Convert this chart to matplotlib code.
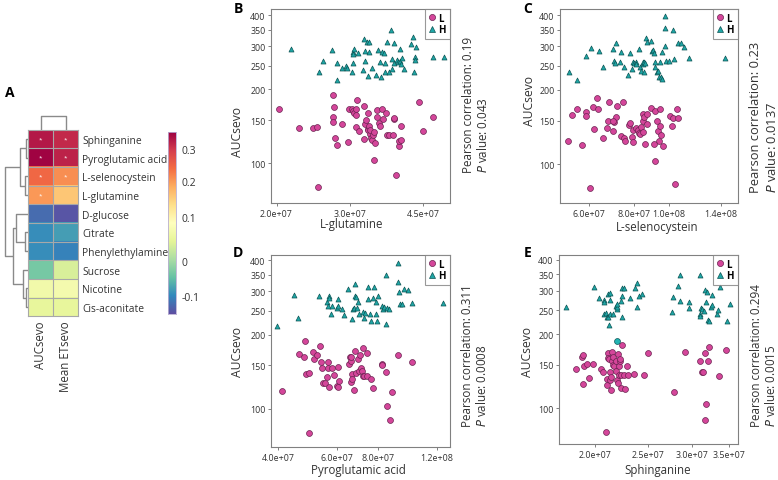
# Panel A: clustered correlation heatmap; panels B-E: log-log scatter of AUCsevo vs metabolite
import numpy as np
import matplotlib
matplotlib.use("Agg")
import matplotlib.pyplot as plt
from matplotlib.lines import Line2D
from matplotlib.ticker import NullLocator

plt.rcParams["font.family"] = ["Open Sans", "DejaVu Sans"]

W, H = 778, 481

# ── panel A data ──────────────────────────────────────────────────────────────
metabolites = ["Sphinganine", "Pyroglutamic acid", "L-selenocystein", "L-glutamine",
               "D-glucose", "Citrate", "Phenylethylamine", "Sucrose", "Nicotine",
               "Cis-aconitate"]
heat_cols = ["AUCsevo", "Mean ETsevo"]
r_auc = [0.33, 0.35, 0.245, 0.20, -0.125, -0.095, -0.095, -0.035, 0.065, 0.05]
r_et = [0.315, 0.32, 0.21, 0.16, -0.145, -0.08, -0.105, 0.035, 0.07, 0.05]
sig_auc = [1, 1, 1, 1, 0, 0, 0, 0, 0, 0]
sig_et = [1, 1, 1, 0, 0, 0, 0, 0, 0, 0]
# (child a, child b, height) — leaves are row indices, new nodes numbered from 10
row_merges = [(0, 1, 2.3), (2, 3, 3.3), (10, 11, 8.3), (5, 6, 3.3), (4, 13, 12.3),
              (8, 9, 2.0), (7, 15, 5.6), (14, 16, 15.8), (12, 17, 23.3)]
col_merges = [(0, 1, 13.5)]
# legend breaks are not evenly spaced
cbar_vals = [-0.152, -0.1, 0.0, 0.1, 0.2, 0.3, 0.353]
cbar_pos = [0.0, 0.1005, 0.293, 0.531, 0.732, 0.907, 1.0]
cbar_ticks = [-0.1, 0, 0.1, 0.2, 0.3]
cbar_ticklabels = ["-0.1", "0", "0.1", "0.2", "0.3"]

# ── panel B: L-glutamine (x in 1e7) ───────────────────────────────────────────
B_L_x = [2.03, 2.26, 2.45, 2.50, 2.52, 2.73, 2.75, 2.73, 2.74, 2.77, 2.80, 2.87, 2.97, 2.99, 3.04,
         3.06, 3.07, 3.10, 3.11, 3.11, 3.12, 3.15, 3.24, 3.25, 3.27, 3.28, 3.31, 3.31, 3.32, 3.34,
         3.35, 3.36, 3.38, 3.40, 3.41, 3.42, 3.44, 3.42, 3.48, 3.49, 3.53, 3.54, 3.58, 3.61, 3.67,
         3.68, 3.72, 3.81, 3.83, 3.84, 3.87, 3.93, 3.94, 3.99, 3.99, 4.40, 4.50, 4.75]
B_L_y = [167, 139, 139, 141, 80, 189, 170, 155, 148, 127, 119, 144, 122, 166, 167,
         163, 160, 167, 158, 140, 181, 136, 126, 171, 145, 150, 160, 138, 137, 142,
         132, 137, 127, 124, 130, 134, 121, 103, 155, 165, 146, 142, 167, 151, 160,
         130, 131, 131, 152, 153, 90, 118, 123, 142, 124, 178, 136, 155]
B_H_x = [2.17, 2.53, 2.59, 2.72, 2.80, 2.80, 2.87, 2.93, 2.96, 3.03, 3.05, 3.07, 3.05, 3.14, 3.22,
         3.25, 3.27, 3.29, 3.33, 3.26, 3.34, 3.40, 3.31, 3.47, 3.51, 3.54, 3.57, 3.59, 3.62, 3.65,
         3.68, 3.72, 3.76, 3.79, 3.82, 3.84, 3.89, 3.92, 3.95, 3.96, 3.98, 4.01, 4.04, 4.20, 4.26,
         4.27, 4.30, 4.29, 4.33, 4.74, 5.05, 3.79, 3.65, 3.06]
B_H_y = [293, 235, 262, 290, 257, 219, 245, 248, 244, 236, 285, 291, 278, 282, 241,
         321, 262, 313, 311, 286, 284, 244, 227, 229, 290, 258, 224, 285, 281, 236,
         311, 236, 349, 267, 308, 257, 263, 258, 260, 291, 254, 268, 243, 305, 328,
         235, 271, 264, 299, 272, 270, 242, 256, 257]

# ── panel C: L-selenocystein ──────────────────────────────────────────────────
C_L_x = [5.23, 5.39, 5.54, 5.72, 5.87, 5.88, 6.03, 6.14, 6.20, 6.34, 6.30, 6.57, 6.71, 6.78, 6.81,
         7.00, 7.04, 7.11, 7.17, 7.35, 7.46, 7.51, 7.54, 7.76, 7.79, 7.88, 7.96, 7.93, 8.13, 8.22,
         8.25, 8.31, 8.39, 8.45, 8.49, 8.52, 8.58, 8.67, 8.72, 8.95, 9.14, 9.18, 9.30, 9.34, 9.40,
         9.44, 9.48, 9.50, 9.64, 10.06, 10.19, 10.28, 10.39, 10.57, 10.64, 9.11, 7.00, 8.49]
C_L_y = [124, 158, 167, 119, 163, 156, 80, 171, 139, 167, 185, 128, 140, 149, 178,
         136, 148, 155, 172, 130, 179, 127, 124, 144, 146, 129, 123, 138, 140, 138,
         134, 132, 141, 150, 160, 155, 120, 160, 145, 169, 164, 103, 150, 136, 124,
         167, 142, 131, 118, 156, 142, 154, 83, 167, 153, 120, 149, 135]
C_H_x = [5.28, 5.56, 5.90, 6.06, 6.40, 6.57, 7.00, 7.03, 7.08, 7.12, 7.31, 7.34, 7.51, 7.68, 7.91,
         7.79, 7.96, 8.01, 8.08, 8.13, 8.27, 8.31, 8.39, 8.45, 8.49, 8.52, 8.54, 8.58, 8.63, 8.67,
         8.91, 8.99, 9.05, 9.09, 9.14, 9.18, 9.30, 9.34, 9.38, 9.54, 9.44, 9.60, 9.75, 9.75, 9.81,
         10.02, 10.28, 10.35, 10.61, 10.84, 11.03, 11.39, 14.37, 9.58, 9.79]
C_H_y = [237, 219, 275, 294, 286, 248, 292, 262, 256, 308, 258, 284, 247, 230, 243,
         282, 260, 257, 258, 254, 292, 247, 239, 254, 260, 235, 258, 257, 323, 311,
         314, 286, 291, 282, 247, 260, 235, 239, 225, 226, 258, 284, 355, 302, 261,
         261, 349, 267, 309, 309, 299, 270, 270, 221, 397]

# ── panel D: Pyroglutamic acid ────────────────────────────────────────────────
D_L_x = [4.12, 4.61, 4.80, 4.85, 4.97, 4.82, 4.95, 5.11, 5.13, 5.25, 5.33, 5.37, 5.41, 5.45, 5.53,
         5.60, 5.64, 5.66, 5.70, 5.80, 5.89, 6.00, 6.04, 6.07, 6.11, 6.53, 6.58, 6.61, 6.64, 6.65,
         6.68, 6.76, 6.81, 6.86, 6.97, 7.00, 7.04, 7.08, 7.13, 7.17, 7.20, 7.24, 7.38, 7.41, 7.60,
         7.73, 8.21, 8.23, 8.44, 8.48, 8.67, 8.77, 9.19, 10.12, 6.61]
D_L_y = [118, 167, 162, 139, 140, 188, 80, 170, 159, 166, 180, 155, 147, 127, 127,
         135, 147, 155, 123, 147, 137, 124, 123, 148, 130, 152, 162, 128, 157, 139,
         132, 119, 171, 140, 160, 142, 166, 147, 143, 136, 177, 136, 136, 168, 132,
         122, 152, 151, 141, 103, 90, 117, 166, 155, 162]
D_H_x = [3.98, 4.48, 4.60, 5.29, 5.60, 5.63, 5.70, 5.70, 5.76, 5.80, 6.03, 6.04, 6.07, 6.24, 6.31,
         6.47, 6.65, 6.70, 6.76, 6.81, 6.81, 6.84, 6.88, 6.97, 7.02, 7.20, 7.24, 7.27, 7.43, 7.46,
         7.55, 7.58, 7.69, 7.78, 7.87, 7.91, 7.96, 8.19, 8.28, 8.34, 8.41, 8.44, 8.48, 8.61, 9.14,
         9.19, 9.23, 9.28, 9.39, 9.55, 9.84, 10.12, 12.48, 7.87]
D_H_y = [216, 291, 233, 288, 272, 261, 286, 281, 243, 261, 256, 279, 262, 253, 241,
         307, 232, 254, 256, 321, 286, 284, 256, 272, 242, 248, 233, 245, 279, 313,
         242, 228, 282, 311, 242, 228, 288, 261, 254, 258, 349, 221, 256, 254, 391,
         326, 297, 266, 266, 305, 304, 268, 268, 271]

# ── panel E: Sphinganine ──────────────────────────────────────────────────────
E_L_x = [1.85, 1.89, 1.90, 1.91, 1.90, 1.93, 1.95, 1.98, 2.05, 2.07, 2.09, 2.10, 2.10, 2.11, 2.11,
         2.12, 2.13, 2.13, 2.14, 2.15, 2.15, 2.16, 2.16, 2.17, 2.18, 2.18, 2.19, 2.20, 2.20, 2.21,
         2.21, 2.22, 2.23, 2.23, 2.24, 2.26, 2.27, 2.29, 2.30, 2.35, 2.46, 2.50, 2.78, 2.91, 3.11,
         3.13, 3.14, 3.17, 3.19, 3.21, 3.23, 3.17, 3.36, 3.46, 2.14, 2.22]
E_L_y = [145, 161, 164, 148, 125, 151, 133, 151, 144, 141, 80, 124, 132, 167, 160,
         158, 141, 130, 119, 169, 155, 150, 161, 148, 156, 142, 130, 127, 166, 149,
         136, 155, 137, 121, 180, 137, 120, 149, 137, 138, 137, 167, 117, 169, 155,
         141, 141, 167, 104, 155, 178, 90, 135, 172, 134, 159]
E_H_x = [1.77, 1.99, 2.03, 2.08, 2.08, 2.08, 2.09, 2.10, 2.11, 2.12, 2.13, 2.13, 2.11, 2.13, 2.16,
         2.18, 2.19, 2.19, 2.23, 2.24, 2.24, 2.24, 2.26, 2.32, 2.36, 2.38, 2.38, 2.40, 2.44, 2.76,
         2.77, 2.83, 2.86, 2.86, 2.96, 2.96, 3.11, 3.10, 3.11, 3.12, 3.13, 3.16, 3.17, 3.18, 3.20,
         3.21, 3.22, 3.25, 3.26, 3.27, 3.33, 3.35, 3.38, 3.48, 3.52, 2.19]
E_H_y = [258, 309, 279, 275, 241, 271, 244, 235, 234, 218, 241, 275, 291, 293, 241,
         261, 253, 257, 273, 235, 286, 307, 307, 279, 307, 257, 322, 285, 291, 245,
         282, 312, 273, 348, 269, 254, 348, 241, 236, 254, 253, 247, 303, 269, 297,
         229, 225, 257, 289, 262, 241, 250, 309, 225, 265, 265]
E_odd_x = [2.19]   # the single teal circle
E_odd_y = [188]

y_ticks = [100, 150, 200, 250, 300, 350, 400]

L_COLOR, L_EDGE = "#D4469A", "#6A2350"
H_COLOR, H_EDGE = "#1FA6A6", "#0D5555"
GRAY = "#808080"
TXT = "#333333"


def px_axes(l, t, r, b):
    return fig.add_axes([l / W, 1 - b / H, (r - l) / W, (b - t) / H])


def draw_dendro(ax, n, merges, vertical):
    pos = {i: i + 0.5 for i in range(n)}
    hgt = {i: 0.0 for i in range(n)}
    for k, (a, b, h) in enumerate(merges):
        xs = [hgt[a], h, h, hgt[b]]
        ys = [pos[a], pos[a], pos[b], pos[b]]
        if vertical:
            ax.plot(ys, xs, color="#8a8a8a", lw=1.0, solid_capstyle="butt")
        else:
            ax.plot(xs, ys, color="#8a8a8a", lw=1.0, solid_capstyle="butt")
        pos[n + k] = (pos[a] + pos[b]) / 2
        hgt[n + k] = h
    ax.set_axis_off()


fig = plt.figure(figsize=(W / 100, H / 100), dpi=100)
fig.patch.set_facecolor("white")

# ── A: heatmap ────────────────────────────────────────────────────────────────
cmap = plt.get_cmap("Spectral_r")
vals = np.column_stack([r_auc, r_et])
rgb = cmap(np.interp(vals, cbar_vals, cbar_pos))

ax_hm = px_axes(28.3, 130.5, 78.3, 317.3)
ax_hm.imshow(rgb, aspect="auto", interpolation="nearest", extent=(0, 2, 10, 0))
for i in range(1, 10):
    ax_hm.axhline(i, color="#a8a8a8", lw=0.8)
ax_hm.axvline(1, color="#a8a8a8", lw=0.8)
for sp in ax_hm.spines.values():
    sp.set_color("#a8a8a8")
    sp.set_linewidth(0.8)
for i in range(10):
    if sig_auc[i]:
        ax_hm.text(0.5, i + 0.5, "*", color="white", fontsize=4.5, ha="center", va="center")
    if sig_et[i]:
        ax_hm.text(1.5, i + 0.5, "*", color="white", fontsize=4.5, ha="center", va="center")
ax_hm.set_yticks(np.arange(10) + 0.5)
ax_hm.set_yticklabels(metabolites, fontsize=7.4, color=TXT)
ax_hm.yaxis.tick_right()
ax_hm.set_xticks([0.5, 1.5])
ax_hm.set_xticklabels(heat_cols, rotation=90, fontsize=8.3, color=TXT)
ax_hm.tick_params(length=0, pad=3)

ax_rd = px_axes(3, 130.5, 28.3, 317.3)
draw_dendro(ax_rd, 10, row_merges, vertical=False)
ax_rd.set_xlim(25.3, 0)
ax_rd.set_ylim(10, 0)

ax_cd = px_axes(28.3, 114, 78.3, 130.5)
draw_dendro(ax_cd, 2, col_merges, vertical=True)
ax_cd.set_xlim(0, 2)
ax_cd.set_ylim(0, 16.5)

cax = px_axes(168, 133, 176, 315)
cax.imshow(np.linspace(0, 1, 256)[:, None], cmap=cmap, aspect="auto",
           origin="lower", extent=(0, 1, 0, 1))
cax.set_xticks([])
cax.set_yticks(np.interp(cbar_ticks, cbar_vals, cbar_pos))
cax.set_yticklabels(cbar_ticklabels, fontsize=7.5, color=TXT)
cax.yaxis.tick_right()
cax.tick_params(length=0, pad=4)
for sp in cax.spines.values():
    sp.set_color("#b9aed3")
    sp.set_linewidth(0.6)

fig.text(5 / W, 1 - 93 / H, "A", fontsize=10, fontweight="bold", va="center")


# ── B–E: scatter panels ───────────────────────────────────────────────────────
def draw_scatter(ax, xL, yL, xH, yH, xlim, ylim, xticks, xlabel, xl_pos, yl_pos):
    ax.scatter(np.array(xL) * 1e7, yL, s=18, marker="o", color=L_COLOR,
               edgecolors=L_EDGE, linewidths=0.5, zorder=3)
    ax.scatter(np.array(xH) * 1e7, yH, s=13, marker="^", color=H_COLOR,
               edgecolors=H_EDGE, linewidths=0.5, zorder=3)
    ax.set_xscale("log")
    ax.set_yscale("log")
    ax.set_xlim(xlim[0] * 1e7, xlim[1] * 1e7)
    ax.set_ylim(*ylim)
    ax.xaxis.set_minor_locator(NullLocator())
    ax.yaxis.set_minor_locator(NullLocator())
    ax.set_xticks([v * 1e7 for v in xticks])
    ax.set_xticklabels([f"{v * 1e7:.1e}" for v in xticks])
    ax.set_yticks(y_ticks)
    ax.set_yticklabels([str(v) for v in y_ticks])
    ax.tick_params(labelsize=6.4, length=2.5, width=0.7, color=GRAY, labelcolor=TXT, pad=1.5)
    for sp in ax.spines.values():
        sp.set_color(GRAY)
        sp.set_linewidth(0.8)
    ax.set_xlabel(xlabel, fontsize=8.3, color=TXT)
    ax.set_ylabel("AUCsevo", fontsize=8.7, color=TXT)
    ax.xaxis.set_label_coords(*xl_pos)
    ax.yaxis.set_label_coords(*yl_pos)
    handles = [Line2D([], [], ls="", marker="o", ms=4.4, mfc=L_COLOR, mec=L_EDGE, mew=0.5, label="L"),
               Line2D([], [], ls="", marker="^", ms=3.8, mfc=H_COLOR, mec=H_EDGE, mew=0.5, label="H")]
    leg = ax.legend(handles=handles, loc="upper right", borderaxespad=0, frameon=True,
                    fancybox=False, edgecolor=GRAY, handlelength=0.7, handletextpad=0.35,
                    borderpad=0.4, labelspacing=0.05, prop={"size": 7, "weight": "bold"})
    leg.get_frame().set_linewidth(0.8)


ax_b = px_axes(271, 10, 450, 204)
draw_scatter(ax_b, B_L_x, B_L_y, B_H_x, B_H_y, (1.94, 5.22), (69, 425),
             [2.0, 3.0, 4.5], "L-glutamine", (0.45, -0.072), (-0.15, 0.37))

ax_c = px_axes(560, 10, 738, 204)
draw_scatter(ax_c, C_L_x, C_L_y, C_H_x, C_H_y, (4.98, 15.58), (69.5, 425),
             [6.0, 8.0, 10.0, 14.0], "L-selenocystein", (0.545, -0.088), (-0.135, 0.53))

ax_d = px_axes(271, 256, 450, 448)
draw_scatter(ax_d, D_L_x, D_L_y, D_H_x, D_H_y, (3.81, 13.12), (70, 421),
             [4.0, 6.0, 8.0, 12.0], "Pyroglutamic acid", (0.486, -0.083), (-0.15, 0.5))

ax_e = px_axes(559, 256, 738, 445)
draw_scatter(ax_e, E_L_x, E_L_y, E_H_x, E_H_y, (1.72, 3.64), (71.7, 418.5),
             [2.0, 2.5, 3.0, 3.5], "Sphinganine", (0.553, -0.10), (-0.14, 0.49))
ax_e.scatter(np.array(E_odd_x) * 1e7, E_odd_y, s=18, marker="o", color="#22B3B3",
             edgecolors=H_EDGE, linewidths=0.5, zorder=4)

# stats text, rotated: (left px, bottom px, r, p, fontsize, line spacing)
stats = [(462, 173, "0.19", "0.043", 8.4, 1.05), (749, 193, "0.23", "0.0137", 9.3, 1.25),
         (461, 427, "0.311", "0.0008", 8.4, 1.1), (750, 427, "0.294", "0.0015", 8.4, 1.1)]
for x, y, r, p, fs, ls in stats:
    fig.text(x / W, 1 - y / H, f"Pearson correlation: {r}\n$\\it{{P}}$ value: {p}",
             rotation=90, ha="left", va="bottom", multialignment="left",
             fontsize=fs, color=TXT, linespacing=ls)

for lbl, x, y in [("B", 238, 9), ("C", 528, 9), ("D", 238, 253), ("E", 528, 253)]:
    fig.text(x / W, 1 - y / H, lbl, fontsize=10, fontweight="bold", ha="center", va="center")

fig.savefig("out.png", dpi=100, facecolor="white")
